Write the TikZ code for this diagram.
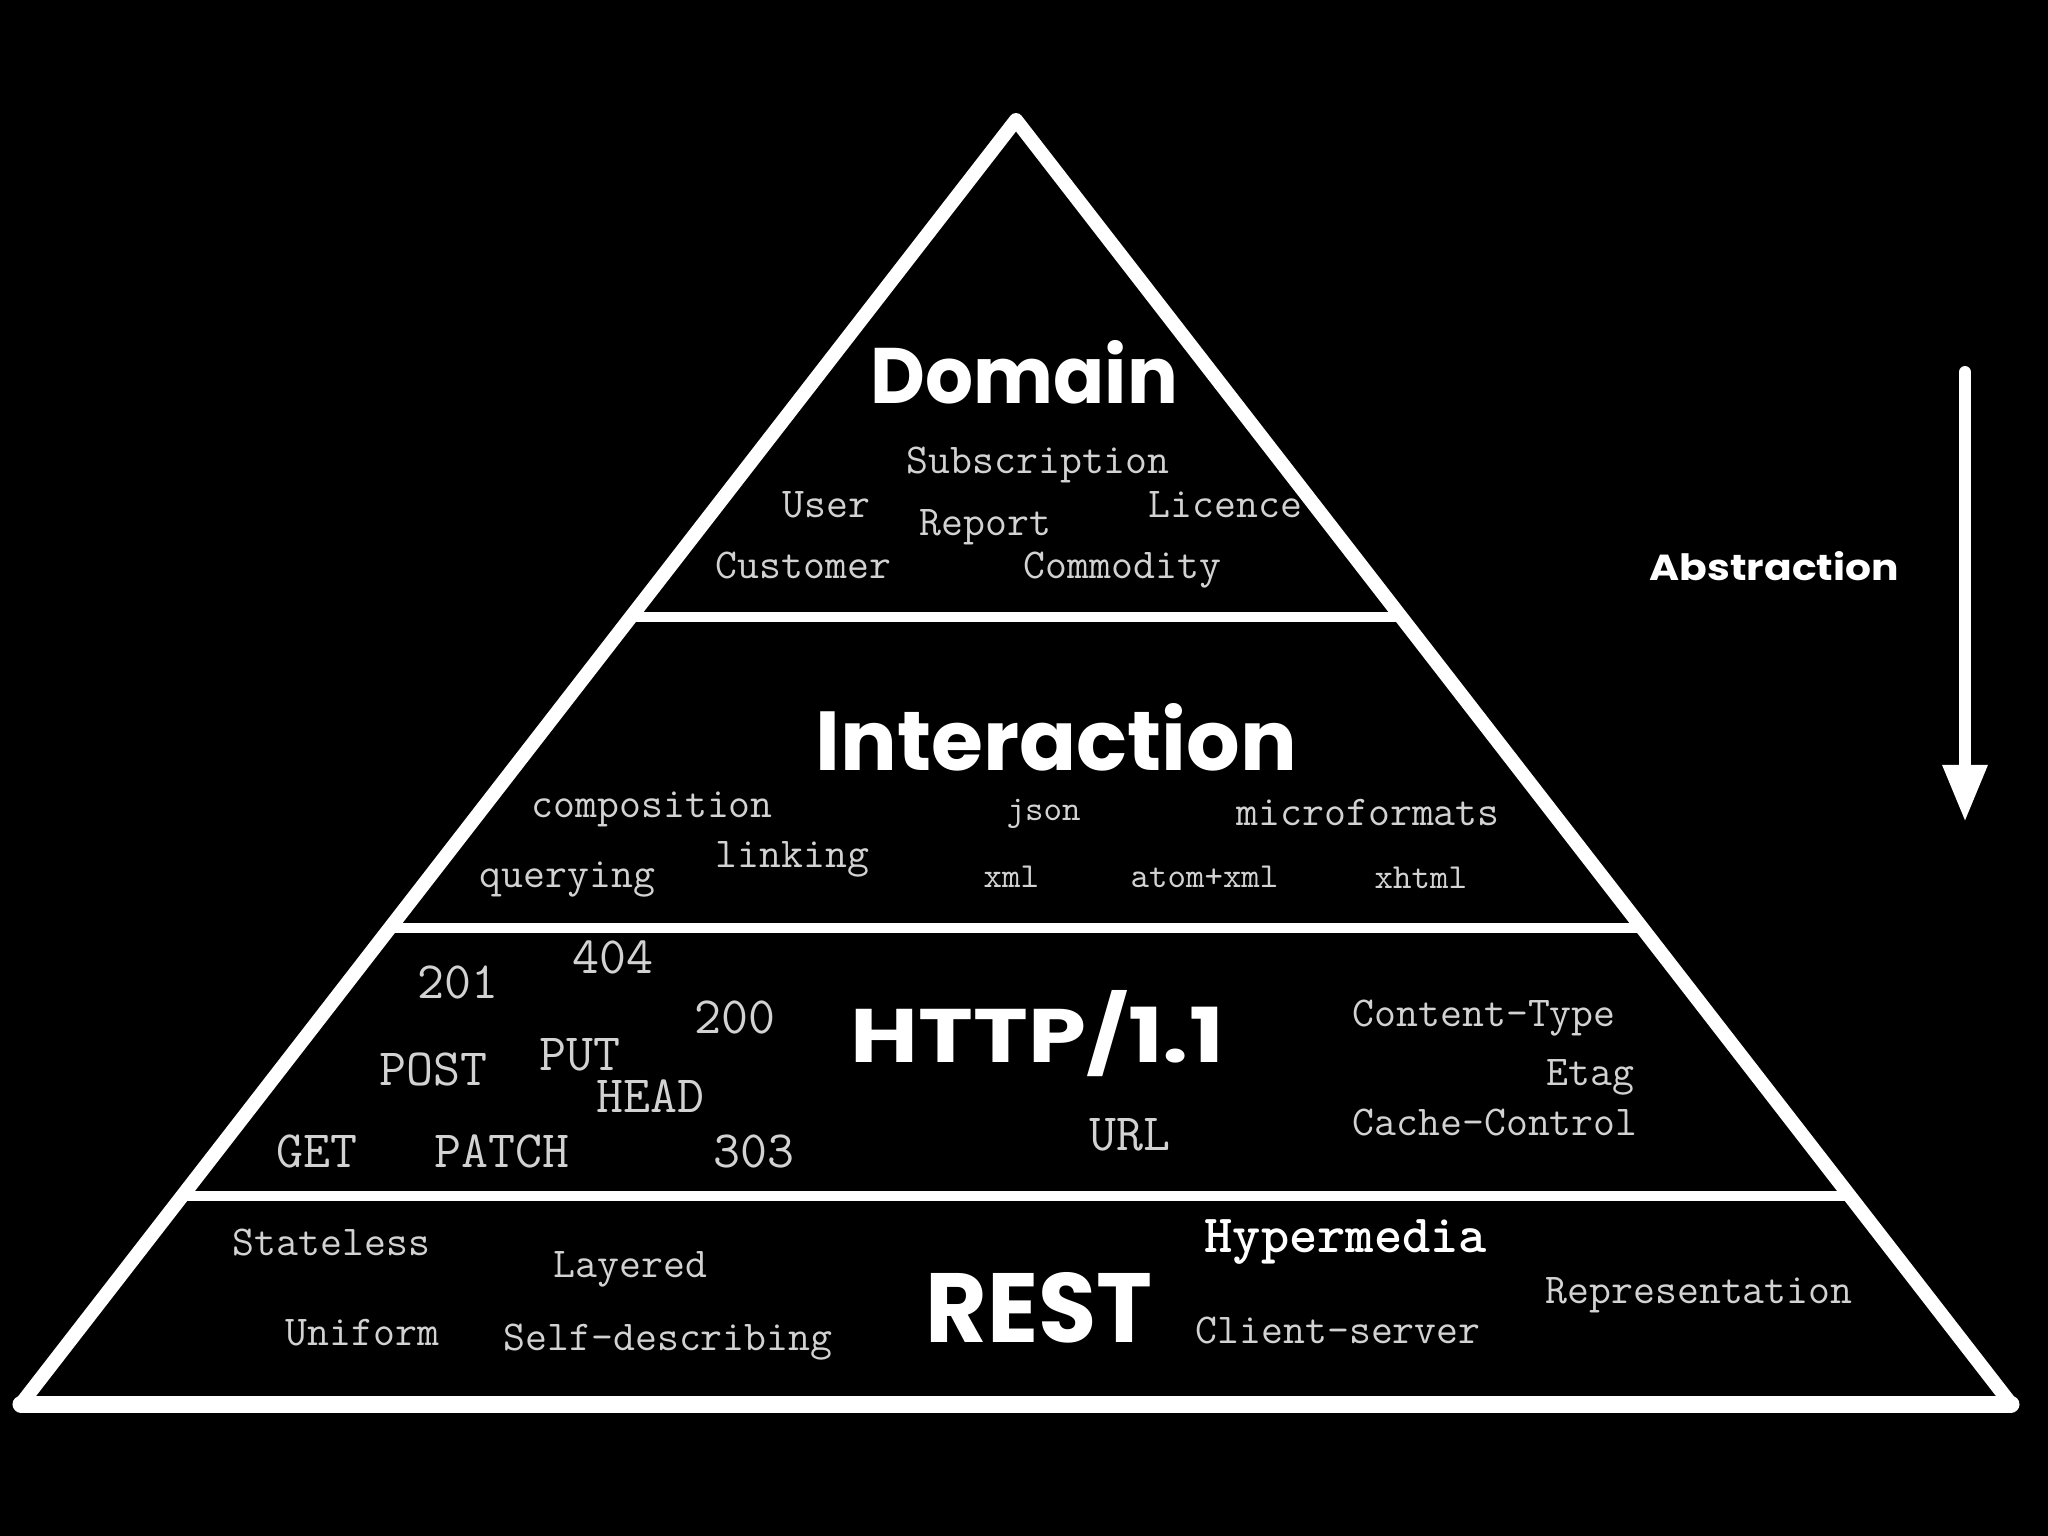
\documentclass[tikz,border=0pt]{standalone}
\usepackage{fontspec}
\usepackage{graphicx}
\newfontfamily\titlefont{Poppins}
\usetikzlibrary{arrows.meta}
\definecolor{txt}{HTML}{D2D2D2}
\tikzset{
  mono/.style={text=txt, font=\ttfamily\fontsize{12.1pt}{12pt}\selectfont, anchor=base west, inner sep=0pt},
  monobig/.style={mono, font=\ttfamily\fontsize{14.9pt}{15pt}\selectfont},
  monosmall/.style={mono, font=\ttfamily\fontsize{10pt}{10pt}\selectfont},
  monobold/.style={mono, text=white, font=\ttfamily\bfseries\fontsize{15.3pt}{16pt}\selectfont},
  layertitle/.style={text=white, font=\titlefont\bfseries, anchor=base west, inner sep=0pt},
  outline/.style={draw=white, line width=0.14cm, line join=round},
  divider/.style={draw=white, line width=0.10cm},
}
\begin{document}
\begin{tikzpicture}[x=0.01cm, y=-0.01cm]
  \fill[black] (0,0) rectangle (2048,1536);
  \useasboundingbox (0,0) rectangle (2048,1536);
  % pyramid corners
  \coordinate (apex) at (1016,120);
  \coordinate (bl) at (21,1404);
  \coordinate (br) at (2011,1404);
  % divider ends
  \coordinate (d1l) at (632,617);  \coordinate (d1r) at (1400,617);
  \coordinate (d2l) at (391,928);  \coordinate (d2r) at (1641,928);
  \coordinate (d3l) at (184,1196); \coordinate (d3r) at (1848,1196);
  \draw[outline] (apex) -- (bl) -- (br) -- cycle;
  \draw[draw=white, line width=0.17cm, line cap=round] (bl) -- (br);
  \draw[divider] (d1l) -- (d1r);
  \draw[divider] (d2l) -- (d2r);
  \draw[divider] (d3l) -- (d3r);

  % layer titles
  \node[layertitle] (tdomain) at (870,403) {\resizebox{3.07cm}{0.63cm}{Domain}};
  \node[layertitle] (tinter) at (815,770) {\resizebox{4.81cm}{0.67cm}{Interaction}};
  \node[layertitle] (thttp) at (850,1062) {\resizebox{3.73cm}{0.72cm}{HTTP/1.1}};
  \node[layertitle] (trest) at (925,1342) {\resizebox{2.27cm}{0.70cm}{REST}};

  % Domain
  \node[mono] (subscription) at (906,473) {Subscription};
  \node[mono] (user) at (782,517) {User};
  \node[mono] (report) at (919,535) {Report};
  \node[mono] (licence) at (1148,517) {Licence};
  \node[mono] (customer) at (715,578) {Customer};
  \node[mono] (commodity) at (1023,578) {Commodity};

  % Interaction
  \node[mono] (composition) at (531,817) {composition};
  \node[monosmall] (json) at (1006,820) {json};
  \node[mono] (microformats) at (1236,825) {microformats};
  \node[mono] (linking) at (715,867) {linking};
  \node[mono] (querying) at (479,887) {querying};
  \node[monosmall] (xml) at (983,887) {xml};
  \node[monosmall] (atomxml) at (1130,887) {atom+xml};
  \node[monosmall] (xhtml) at (1374,888) {xhtml};

  % HTTP
  \node[monobig] (s201) at (417,998) {201};
  \node[monobig] (s404) at (572,973) {404};
  \node[monobig] (s200) at (694,1033) {200};
  \node[monobig] (post) at (379,1085) {POST};
  \node[monobig] (put) at (539,1070) {PUT};
  \node[monobig] (head) at (596,1112) {HEAD};
  \node[monobig] (get) at (276,1167) {GET};
  \node[monobig] (patch) at (434,1167) {PATCH};
  \node[monobig] (s303) at (713,1167) {303};
  \node[monobig] (url) at (1089,1150) {URL};
  \node[mono] (ctype) at (1352,1026) {Content-Type};
  \node[mono] (etag) at (1546,1085) {Etag};
  \node[mono] (cache) at (1352,1135) {Cache-Control};

  % REST
  \node[mono] (stateless) at (232,1255) {Stateless};
  \node[mono] (layered) at (553,1277) {Layered};
  \node[mono] (uniform) at (285,1345) {Uniform};
  \node[mono] (selfdesc) at (503,1350) {Self-describing};
  \node[monobold] (hypermedia) at (1204,1252) {Hypermedia};
  \node[mono] (clientserver) at (1195,1343) {Client-server};
  \node[mono] (representation) at (1545,1303) {Representation};

  % Abstraction arrow
  \node[layertitle] (abstraction) at (1649,580) {\resizebox{2.49cm}{0.29cm}{Abstraction}};
  \coordinate (atop) at (1965,372);
  \coordinate (abot) at (1965,822);
  \draw[white, line width=0.12cm, line cap=round, -{Triangle[width=0.42cm,length=0.57cm]}] (atop) -- (abot);
\end{tikzpicture}
\end{document}
